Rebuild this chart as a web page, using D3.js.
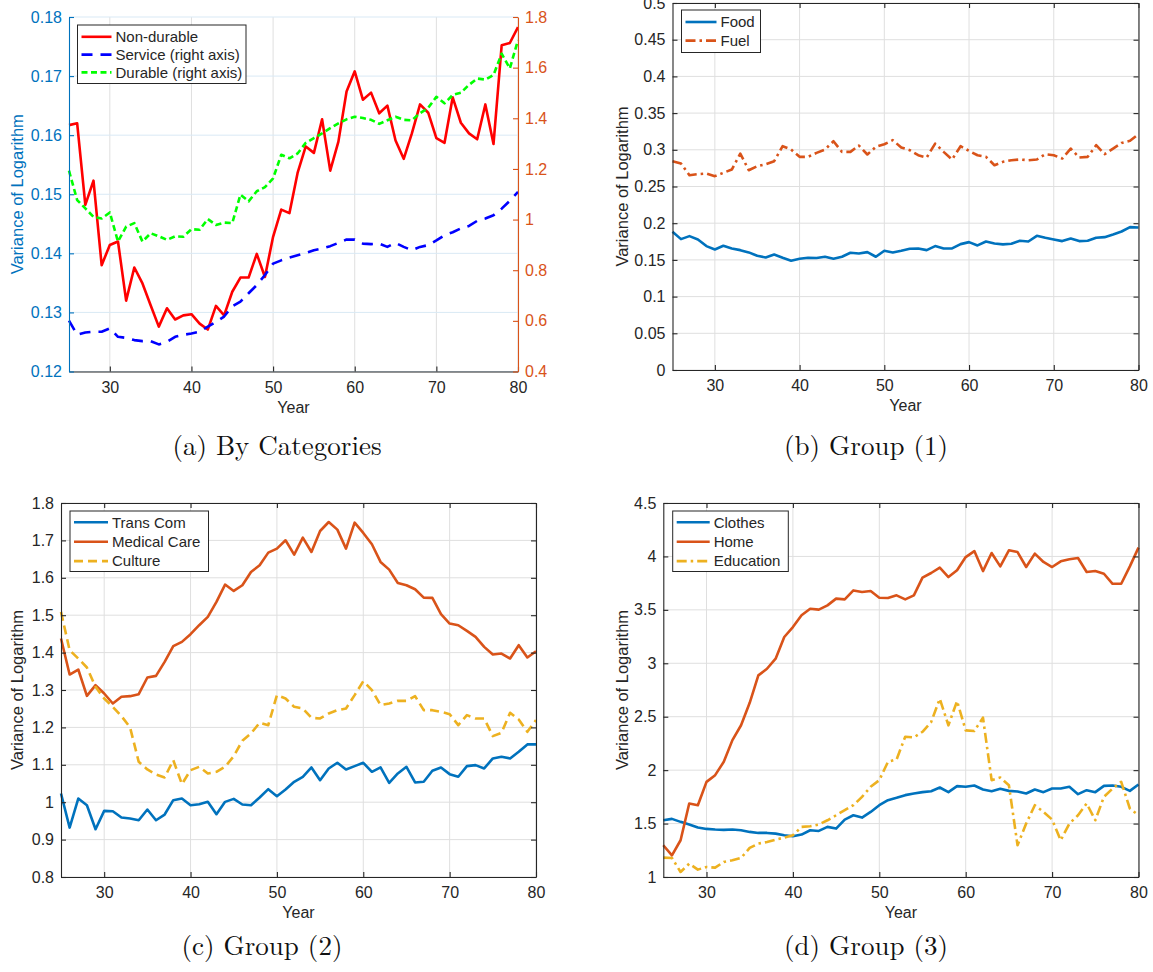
<!DOCTYPE html>
<html>
<head>
<meta charset="utf-8">
<script src="https://cdn.jsdelivr.net/npm/d3@7"></script>
<style>
  body { margin: 0; background: #fff; }
  svg { display: block; font-family: "Liberation Sans", Arial, Helvetica, sans-serif; }
  .caption { font-family: "Latin Modern Roman", "CMU Serif", "Liberation Serif", "Times New Roman", serif; }
</style>
</head>
<body>
<svg id="fig" width="1153" height="972"></svg>
<script>
// ---- data: variance of log expenditure by age (years 25..80) ----
const years = [25,26,27,28,29,30,31,32,33,34,35,36,37,38,39,40,41,42,43,44,45,46,47,48,49,50,
  51,52,53,54,55,56,57,58,59,60,61,62,63,64,65,66,67,68,69,70,71,72,73,74,75,76,77,78,79,80];
const xTickValues = [30, 40, 50, 60, 70, 80];

// (a) by categories
const nonDurable = [0.1617,0.1620,0.1482,0.1523,0.1380,0.1414,0.1420,0.1320,0.1376,0.1349,
  0.1312,0.1276,0.1307,0.1288,0.1295,0.1297,0.1281,0.1271,0.1311,0.1295,
  0.1335,0.1359,0.1359,0.1399,0.1360,0.1428,0.1474,0.1468,0.1536,0.1581,
  0.1570,0.1627,0.1540,0.1589,0.1674,0.1708,0.1660,0.1672,0.1637,0.1650,
  0.1591,0.1560,0.1603,0.1652,0.1638,0.1595,0.1587,0.1664,0.1621,0.1603,
  0.1593,0.1652,0.1585,0.1752,0.1756,0.1783];
const service = [0.601,0.545,0.554,0.557,0.557,0.570,0.537,0.533,0.524,0.520,
  0.520,0.507,0.517,0.537,0.545,0.550,0.557,0.577,0.596,0.617,
  0.657,0.676,0.709,0.741,0.781,0.826,0.839,0.850,0.859,0.868,
  0.879,0.886,0.895,0.908,0.921,0.921,0.905,0.903,0.905,0.892,
  0.908,0.892,0.879,0.892,0.899,0.918,0.938,0.950,0.965,0.975,
  0.995,1.004,1.017,1.043,1.074,1.109];
const durable = [1.193,1.077,1.044,1.011,1.004,1.028,0.913,0.972,0.986,0.913,
  0.946,0.934,0.920,0.934,0.932,0.962,0.960,1.002,0.979,0.988,
  0.986,1.098,1.072,1.112,1.128,1.163,1.256,1.242,1.261,1.303,
  1.322,1.340,1.361,1.380,1.396,1.406,1.401,1.394,1.378,1.392,
  1.406,1.394,1.392,1.420,1.441,1.485,1.459,1.492,1.501,1.532,
  1.557,1.553,1.571,1.655,1.597,1.709];
const aLeftTicks = [0.12, 0.13, 0.14, 0.15, 0.16, 0.17, 0.18];
const aRightTicks = [0.4, 0.6, 0.8, 1, 1.2, 1.4, 1.6, 1.8];

// (b) group (1)
const food = [0.1883,0.1783,0.1824,0.1779,0.1688,0.1642,0.1692,0.1656,0.1633,0.1602,
  0.1556,0.1534,0.1574,0.1529,0.1488,0.1515,0.1529,0.1525,0.1543,0.1515,
  0.1543,0.1597,0.1588,0.1606,0.1543,0.1624,0.1602,0.1624,0.1652,0.1656,
  0.1633,0.1688,0.1656,0.1656,0.1715,0.1742,0.1697,0.1751,0.1724,0.1711,
  0.1720,0.1760,0.1751,0.1828,0.1801,0.1779,0.1756,0.1792,0.1756,0.1760,
  0.1801,0.1810,0.1847,0.1887,0.1946,0.1942];
const fuel = [0.2845,0.2813,0.2654,0.2668,0.2677,0.2641,0.2686,0.2731,0.2949,0.2722,
  0.2777,0.2804,0.2845,0.3049,0.3004,0.2904,0.2904,0.2958,0.3004,0.3117,
  0.2972,0.2972,0.3058,0.2936,0.3040,0.3076,0.3131,0.3031,0.2995,0.2926,
  0.2895,0.3085,0.2972,0.2868,0.3049,0.2985,0.2926,0.2904,0.2790,0.2836,
  0.2858,0.2868,0.2858,0.2868,0.2940,0.2926,0.2881,0.3017,0.2895,0.2904,
  0.3063,0.2940,0.3017,0.3094,0.3122,0.3212];
const bTicks = [0, 0.05, 0.1, 0.15, 0.2, 0.25, 0.3, 0.35, 0.4, 0.45, 0.5];

// (c) group (2)
const transCom = [1.0232,0.9321,1.0098,0.9920,0.9277,0.9768,0.9759,0.9589,0.9563,0.9518,
  0.9804,0.9518,0.9670,1.0054,1.0098,0.9920,0.9946,1.0009,0.9679,1.0009,
  1.0089,0.9938,0.9920,1.0125,1.0348,1.0161,1.0339,1.0545,1.0679,1.0929,
  1.0589,1.0902,1.1054,1.0875,1.0964,1.1054,1.0813,1.0929,1.0518,1.0768,
  1.0946,1.0527,1.0545,1.0839,1.0929,1.0750,1.0679,1.0964,1.0991,1.0902,
  1.1170,1.1214,1.1170,1.1348,1.1545,1.1545];
const medicalCare = [1.4376,1.3414,1.3548,1.2844,1.3129,1.2906,1.2639,1.2818,1.2835,1.2889,
  1.3334,1.3378,1.3752,1.4171,1.4287,1.4492,1.4732,1.4955,1.5355,1.5819,
  1.5649,1.5801,1.6157,1.6335,1.6673,1.6780,1.7003,1.6620,1.7074,1.6691,
  1.7252,1.7492,1.7288,1.6780,1.7475,1.7199,1.6896,1.6424,1.6219,1.5863,
  1.5801,1.5694,1.5471,1.5462,1.5026,1.4777,1.4732,1.4581,1.4420,1.4153,
  1.3948,1.3975,1.3842,1.4198,1.3869,1.4038];
const culture = [1.5088,1.4064,1.3842,1.3601,1.3085,1.2773,1.2550,1.2301,1.1998,1.1080,
  1.0875,1.0741,1.0660,1.1125,1.0482,1.0857,1.0946,1.0768,1.0813,1.0946,
  1.1232,1.1643,1.1839,1.2125,1.2060,1.2862,1.2773,1.2550,1.2506,1.2257,
  1.2239,1.2372,1.2461,1.2506,1.2862,1.3236,1.2996,1.2595,1.2639,1.2710,
  1.2710,1.2835,1.2461,1.2461,1.2417,1.2354,1.2060,1.2328,1.2239,1.2239,
  1.1767,1.1856,1.2390,1.2212,1.1882,1.2194];
const cTicks = [0.8, 0.9, 1, 1.1, 1.2, 1.3, 1.4, 1.5, 1.6, 1.7, 1.8];

// (d) group (3)
const clothes = [1.531,1.544,1.516,1.491,1.4625,1.450,1.444,1.441,1.444,1.4375,
  1.422,1.4125,1.4125,1.406,1.391,1.381,1.397,1.4375,1.431,1.469,
  1.453,1.5375,1.578,1.556,1.609,1.672,1.719,1.741,1.766,1.781,
  1.794,1.803,1.8375,1.794,1.850,1.844,1.856,1.819,1.803,1.825,
  1.806,1.800,1.781,1.819,1.794,1.828,1.828,1.844,1.775,1.8125,
  1.794,1.853,1.856,1.844,1.806,1.866];
const home = [1.297,1.203,1.344,1.6875,1.672,1.890,1.953,2.078,2.281,2.420,
  2.630,2.887,2.949,3.043,3.246,3.339,3.449,3.511,3.502,3.542,
  3.605,3.598,3.682,3.667,3.676,3.614,3.611,3.636,3.598,3.636,
  3.801,3.845,3.895,3.807,3.870,3.994,4.050,3.863,4.032,3.907,
  4.057,4.041,3.901,4.026,3.948,3.901,3.954,3.973,3.985,3.854,
  3.863,3.838,3.744,3.744,3.907,4.082];
const education = [1.181,1.178,1.047,1.125,1.069,1.094,1.0875,1.141,1.156,1.178,
  1.272,1.3125,1.328,1.350,1.369,1.391,1.469,1.475,1.491,1.531,
  1.578,1.625,1.672,1.750,1.844,1.906,2.078,2.100,2.3125,2.306,
  2.359,2.450,2.668,2.419,2.647,2.372,2.366,2.491,1.906,1.931,
  1.859,1.297,1.500,1.672,1.609,1.5375,1.344,1.500,1.578,1.6875,
  1.531,1.750,1.828,1.891,1.641,1.578];
const dTicks = [1, 1.5, 2, 2.5, 3, 3.5, 4, 4.5];

// ---- styling ----
const INK = "#262626";
const GRID = "#dfdfdf";
const C_BLUE = "#0072BD", C_ORANGE = "#D95319", C_YELLOW = "#EDB120";
const DASH = "9,5";
const DASHDOT = "10,4,2.5,4";
const fmt = d => String(+d.toFixed(3));

const svg = d3.select("#fig");

function styleAxis(sel, color) {
  sel.attr("font-size", 16).attr("font-family", null);
  sel.select(".domain").attr("stroke", color).attr("stroke-width", 1.1);
  sel.selectAll(".tick line").attr("stroke", color).attr("stroke-width", 1.1);
  sel.selectAll(".tick text").attr("fill", color);
}

function drawPanel(p) {
  const g = svg.append("g");
  const x = d3.scaleLinear().domain([25, 80]).range([p.x0, p.x1]);
  const y = d3.scaleLinear().domain(p.yDomain).range([p.y1, p.y0]);
  const yR = p.yRightDomain ? d3.scaleLinear().domain(p.yRightDomain).range([p.y1, p.y0]) : null;

  // grid
  g.append("g").selectAll("line").data(xTickValues).join("line")
    .attr("x1", d => x(d)).attr("x2", d => x(d))
    .attr("y1", p.y0).attr("y2", p.y1)
    .attr("stroke", GRID).attr("stroke-width", 1);
  g.append("g").selectAll("line").data(p.yTicks).join("line")
    .attr("x1", p.x0).attr("x2", p.x1)
    .attr("y1", d => y(d)).attr("y2", d => y(d))
    .attr("stroke", p.hGrid || GRID).attr("stroke-width", 1);

  // series
  const lineL = d3.line().x((d, i) => x(years[i])).y(d => y(d));
  const lineR = yR ? d3.line().x((d, i) => x(years[i])).y(d => yR(d)) : null;
  p.series.forEach(s => {
    g.append("path")
      .attr("d", (s.right ? lineR : lineL)(s.values))
      .attr("fill", "none")
      .attr("stroke", s.color)
      .attr("stroke-width", 2.6)
      .attr("stroke-linejoin", "round")
      .attr("stroke-dasharray", s.dash || null);
  });

  // axes
  const ax = g.append("g").attr("transform", `translate(0,${p.y1})`)
    .call(d3.axisBottom(x).tickValues(xTickValues).tickFormat(fmt)
      .tickSizeInner(-5).tickSizeOuter(0).tickPadding(10));
  styleAxis(ax, INK);

  const ay = g.append("g").attr("transform", `translate(${p.x0},0)`)
    .call(d3.axisLeft(y).tickValues(p.yTicks).tickFormat(fmt)
      .tickSizeInner(-5).tickSizeOuter(0).tickPadding(7));
  styleAxis(ay, p.yColor || INK);

  if (yR) {
    const ar = g.append("g").attr("transform", `translate(${p.x1},0)`)
      .call(d3.axisRight(yR).tickValues(p.yRightTicks).tickFormat(fmt)
        .tickSizeInner(-5).tickSizeOuter(0).tickPadding(7));
    styleAxis(ar, C_ORANGE);
  } else {
    // closed box: mirrored ticks on top and right
    const at = g.append("g").attr("transform", `translate(0,${p.y0})`)
      .call(d3.axisTop(x).tickValues(xTickValues).tickFormat("")
        .tickSizeInner(-5).tickSizeOuter(0));
    styleAxis(at, INK);
    const ar = g.append("g").attr("transform", `translate(${p.x1},0)`)
      .call(d3.axisRight(y).tickValues(p.yTicks).tickFormat("")
        .tickSizeInner(-5).tickSizeOuter(0));
    styleAxis(ar, INK);
  }

  // axis titles
  g.append("text")
    .attr("x", (p.x0 + p.x1) / 2).attr("y", p.y1 + 41)
    .attr("text-anchor", "middle").attr("font-size", 16).attr("fill", INK)
    .text("Year");
  g.append("text")
    .attr("transform", `translate(${p.yLabelX},${(p.y0 + p.y1) / 2}) rotate(-90)`)
    .attr("text-anchor", "middle").attr("dy", "0.35em")
    .attr("font-size", 16.5).attr("fill", p.yColor || INK)
    .text("Variance of Logarithm");

  // legend
  const L = p.legend;
  const lg = g.append("g");
  lg.append("rect")
    .attr("x", L.x).attr("y", L.y).attr("width", L.w).attr("height", L.h)
    .attr("fill", "#fff").attr("stroke", INK).attr("stroke-width", 1);
  p.series.forEach((s, i) => {
    const ry = L.y + L.first + i * L.pitch;
    lg.append("line")
      .attr("x1", L.x + 4).attr("x2", L.x + 4 + L.len)
      .attr("y1", ry).attr("y2", ry)
      .attr("stroke", s.color).attr("stroke-width", 2.6)
      .attr("stroke-dasharray", s.dash || null);
    lg.append("text")
      .attr("x", L.x + L.len + 8).attr("y", ry).attr("dy", "0.35em")
      .attr("font-size", 15).attr("fill", INK)
      .text(s.name);
  });

  // caption
  svg.append("text")
    .attr("class", "caption")
    .attr("x", p.capX).attr("y", p.capY)
    .attr("text-anchor", "middle").attr("dy", "0.35em")
    .attr("font-size", 27)
    .attr("fill", "#111")
    .text(p.caption);
}

drawPanel({
  x0: 69, x1: 518, y0: 17, y1: 371.5,
  yDomain: [0.12, 0.18], yTicks: aLeftTicks,
  yRightDomain: [0.4, 1.8], yRightTicks: aRightTicks,
  yColor: C_BLUE, hGrid: "#d9e9f5", yLabelX: 17,
  series: [
    { name: "Non-durable", values: nonDurable, color: "#ff0000" },
    { name: "Service (right axis)", values: service, color: "#0000ff", dash: "11,8", right: true },
    { name: "Durable (right axis)", values: durable, color: "#00ff00", dash: "6,3.5", right: true }
  ],
  legend: { x: 77.5, y: 25, w: 168.5, h: 58.5, first: 11.8, pitch: 17.8, len: 30 },
  caption: "(a) By Categories", capX: 277, capY: 446
});

drawPanel({
  x0: 672.5, x1: 1138.5, y0: 3, y1: 370,
  yDomain: [0, 0.5], yTicks: bTicks, yLabelX: 622,
  series: [
    { name: "Food", values: food, color: C_BLUE },
    { name: "Fuel", values: fuel, color: C_ORANGE, dash: DASHDOT }
  ],
  legend: { x: 681.5, y: 10, w: 79, h: 42.5, first: 12, pitch: 18.6, len: 31 },
  caption: "(b) Group (1)", capX: 866, capY: 446
});

drawPanel({
  x0: 61, x1: 536, y0: 503, y1: 877,
  yDomain: [0.8, 1.8], yTicks: cTicks, yLabelX: 17,
  series: [
    { name: "Trans Com", values: transCom, color: C_BLUE },
    { name: "Medical Care", values: medicalCare, color: C_ORANGE },
    { name: "Culture", values: culture, color: C_YELLOW, dash: DASH }
  ],
  legend: { x: 70, y: 511, w: 138.5, h: 60.5, first: 11.3, pitch: 19.4, len: 34 },
  caption: "(c) Group (2)", capX: 262, capY: 946
});

drawPanel({
  x0: 663.3, x1: 1138.5, y0: 503, y1: 877,
  yDomain: [1, 4.5], yTicks: dTicks, yLabelX: 622,
  series: [
    { name: "Clothes", values: clothes, color: C_BLUE },
    { name: "Home", values: home, color: C_ORANGE },
    { name: "Education", values: education, color: C_YELLOW, dash: DASHDOT }
  ],
  legend: { x: 672.7, y: 511, w: 115.6, h: 60.5, first: 11.3, pitch: 19.4, len: 33 },
  caption: "(d) Group (3)", capX: 866, capY: 946
});
</script>
</body>
</html>
